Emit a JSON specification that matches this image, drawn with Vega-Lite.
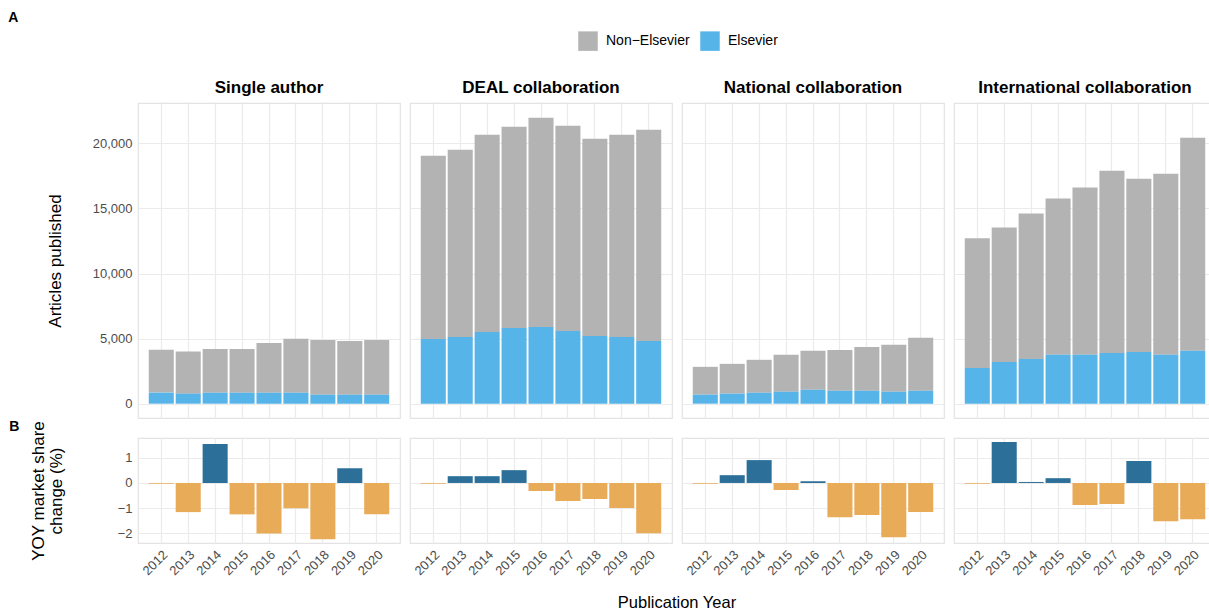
{
  "$schema": "https://vega.github.io/schema/vega-lite/v6.json",
  "padding": {"left": 8, "top": 11, "right": 0, "bottom": 0},
  "background": "white",
  "datasets": {
    "counts": [
      {"type": "Single author", "year": "2012", "publisher": "Non−Elsevier", "articles": 3300},
      {"type": "Single author", "year": "2013", "publisher": "Non−Elsevier", "articles": 3230},
      {"type": "Single author", "year": "2014", "publisher": "Non−Elsevier", "articles": 3370},
      {"type": "Single author", "year": "2015", "publisher": "Non−Elsevier", "articles": 3370},
      {"type": "Single author", "year": "2016", "publisher": "Non−Elsevier", "articles": 3830},
      {"type": "Single author", "year": "2017", "publisher": "Non−Elsevier", "articles": 4140},
      {"type": "Single author", "year": "2018", "publisher": "Non−Elsevier", "articles": 4210},
      {"type": "Single author", "year": "2019", "publisher": "Non−Elsevier", "articles": 4130},
      {"type": "Single author", "year": "2020", "publisher": "Non−Elsevier", "articles": 4210},
      {"type": "Single author", "year": "2012", "publisher": "Elsevier", "articles": 850},
      {"type": "Single author", "year": "2013", "publisher": "Elsevier", "articles": 770},
      {"type": "Single author", "year": "2014", "publisher": "Elsevier", "articles": 840},
      {"type": "Single author", "year": "2015", "publisher": "Elsevier", "articles": 840},
      {"type": "Single author", "year": "2016", "publisher": "Elsevier", "articles": 840},
      {"type": "Single author", "year": "2017", "publisher": "Elsevier", "articles": 840},
      {"type": "Single author", "year": "2018", "publisher": "Elsevier", "articles": 690},
      {"type": "Single author", "year": "2019", "publisher": "Elsevier", "articles": 690},
      {"type": "Single author", "year": "2020", "publisher": "Elsevier", "articles": 690},
      {"type": "DEAL collaboration", "year": "2012", "publisher": "Non−Elsevier", "articles": 14080},
      {"type": "DEAL collaboration", "year": "2013", "publisher": "Non−Elsevier", "articles": 14370},
      {"type": "DEAL collaboration", "year": "2014", "publisher": "Non−Elsevier", "articles": 15150},
      {"type": "DEAL collaboration", "year": "2015", "publisher": "Non−Elsevier", "articles": 15450},
      {"type": "DEAL collaboration", "year": "2016", "publisher": "Non−Elsevier", "articles": 16060},
      {"type": "DEAL collaboration", "year": "2017", "publisher": "Non−Elsevier", "articles": 15760},
      {"type": "DEAL collaboration", "year": "2018", "publisher": "Non−Elsevier", "articles": 15150},
      {"type": "DEAL collaboration", "year": "2019", "publisher": "Non−Elsevier", "articles": 15530},
      {"type": "DEAL collaboration", "year": "2020", "publisher": "Non−Elsevier", "articles": 16220},
      {"type": "DEAL collaboration", "year": "2012", "publisher": "Elsevier", "articles": 4970},
      {"type": "DEAL collaboration", "year": "2013", "publisher": "Elsevier", "articles": 5130},
      {"type": "DEAL collaboration", "year": "2014", "publisher": "Elsevier", "articles": 5510},
      {"type": "DEAL collaboration", "year": "2015", "publisher": "Elsevier", "articles": 5820},
      {"type": "DEAL collaboration", "year": "2016", "publisher": "Elsevier", "articles": 5900},
      {"type": "DEAL collaboration", "year": "2017", "publisher": "Elsevier", "articles": 5590},
      {"type": "DEAL collaboration", "year": "2018", "publisher": "Elsevier", "articles": 5200},
      {"type": "DEAL collaboration", "year": "2019", "publisher": "Elsevier", "articles": 5130},
      {"type": "DEAL collaboration", "year": "2020", "publisher": "Elsevier", "articles": 4820},
      {"type": "National collaboration", "year": "2012", "publisher": "Non−Elsevier", "articles": 2140},
      {"type": "National collaboration", "year": "2013", "publisher": "Non−Elsevier", "articles": 2290},
      {"type": "National collaboration", "year": "2014", "publisher": "Non−Elsevier", "articles": 2530},
      {"type": "National collaboration", "year": "2015", "publisher": "Non−Elsevier", "articles": 2830},
      {"type": "National collaboration", "year": "2016", "publisher": "Non−Elsevier", "articles": 2990},
      {"type": "National collaboration", "year": "2017", "publisher": "Non−Elsevier", "articles": 3130},
      {"type": "National collaboration", "year": "2018", "publisher": "Non−Elsevier", "articles": 3360},
      {"type": "National collaboration", "year": "2019", "publisher": "Non−Elsevier", "articles": 3600},
      {"type": "National collaboration", "year": "2020", "publisher": "Non−Elsevier", "articles": 4060},
      {"type": "National collaboration", "year": "2012", "publisher": "Elsevier", "articles": 690},
      {"type": "National collaboration", "year": "2013", "publisher": "Elsevier", "articles": 770},
      {"type": "National collaboration", "year": "2014", "publisher": "Elsevier", "articles": 840},
      {"type": "National collaboration", "year": "2015", "publisher": "Elsevier", "articles": 920},
      {"type": "National collaboration", "year": "2016", "publisher": "Elsevier", "articles": 1070},
      {"type": "National collaboration", "year": "2017", "publisher": "Elsevier", "articles": 1000},
      {"type": "National collaboration", "year": "2018", "publisher": "Elsevier", "articles": 1000},
      {"type": "National collaboration", "year": "2019", "publisher": "Elsevier", "articles": 920},
      {"type": "National collaboration", "year": "2020", "publisher": "Elsevier", "articles": 1000},
      {"type": "International collaboration", "year": "2012", "publisher": "Non−Elsevier", "articles": 9950},
      {"type": "International collaboration", "year": "2013", "publisher": "Non−Elsevier", "articles": 10330},
      {"type": "International collaboration", "year": "2014", "publisher": "Non−Elsevier", "articles": 11170},
      {"type": "International collaboration", "year": "2015", "publisher": "Non−Elsevier", "articles": 12010},
      {"type": "International collaboration", "year": "2016", "publisher": "Non−Elsevier", "articles": 12850},
      {"type": "International collaboration", "year": "2017", "publisher": "Non−Elsevier", "articles": 14000},
      {"type": "International collaboration", "year": "2018", "publisher": "Non−Elsevier", "articles": 13310},
      {"type": "International collaboration", "year": "2019", "publisher": "Non−Elsevier", "articles": 13920},
      {"type": "International collaboration", "year": "2020", "publisher": "Non−Elsevier", "articles": 16370},
      {"type": "International collaboration", "year": "2012", "publisher": "Elsevier", "articles": 2750},
      {"type": "International collaboration", "year": "2013", "publisher": "Elsevier", "articles": 3210},
      {"type": "International collaboration", "year": "2014", "publisher": "Elsevier", "articles": 3440},
      {"type": "International collaboration", "year": "2015", "publisher": "Elsevier", "articles": 3750},
      {"type": "International collaboration", "year": "2016", "publisher": "Elsevier", "articles": 3750},
      {"type": "International collaboration", "year": "2017", "publisher": "Elsevier", "articles": 3900},
      {"type": "International collaboration", "year": "2018", "publisher": "Elsevier", "articles": 3980},
      {"type": "International collaboration", "year": "2019", "publisher": "Elsevier", "articles": 3750},
      {"type": "International collaboration", "year": "2020", "publisher": "Elsevier", "articles": 4060}
    ],
    "changes": [
      {"type": "Single author", "year": "2012", "change": -0.03},
      {"type": "Single author", "year": "2013", "change": -1.16},
      {"type": "Single author", "year": "2014", "change": 1.55},
      {"type": "Single author", "year": "2015", "change": -1.25},
      {"type": "Single author", "year": "2016", "change": -2.01},
      {"type": "Single author", "year": "2017", "change": -1.01},
      {"type": "Single author", "year": "2018", "change": -2.24},
      {"type": "Single author", "year": "2019", "change": 0.59},
      {"type": "Single author", "year": "2020", "change": -1.25},
      {"type": "DEAL collaboration", "year": "2012", "change": -0.03},
      {"type": "DEAL collaboration", "year": "2013", "change": 0.27},
      {"type": "DEAL collaboration", "year": "2014", "change": 0.27},
      {"type": "DEAL collaboration", "year": "2015", "change": 0.51},
      {"type": "DEAL collaboration", "year": "2016", "change": -0.32},
      {"type": "DEAL collaboration", "year": "2017", "change": -0.72},
      {"type": "DEAL collaboration", "year": "2018", "change": -0.64},
      {"type": "DEAL collaboration", "year": "2019", "change": -1.0},
      {"type": "DEAL collaboration", "year": "2020", "change": -2.0},
      {"type": "National collaboration", "year": "2012", "change": -0.03},
      {"type": "National collaboration", "year": "2013", "change": 0.31},
      {"type": "National collaboration", "year": "2014", "change": 0.91},
      {"type": "National collaboration", "year": "2015", "change": -0.28},
      {"type": "National collaboration", "year": "2016", "change": 0.07},
      {"type": "National collaboration", "year": "2017", "change": -1.36},
      {"type": "National collaboration", "year": "2018", "change": -1.28},
      {"type": "National collaboration", "year": "2019", "change": -2.16},
      {"type": "National collaboration", "year": "2020", "change": -1.16},
      {"type": "International collaboration", "year": "2012", "change": -0.03},
      {"type": "International collaboration", "year": "2013", "change": 1.63},
      {"type": "International collaboration", "year": "2014", "change": 0.04},
      {"type": "International collaboration", "year": "2015", "change": 0.19},
      {"type": "International collaboration", "year": "2016", "change": -0.88},
      {"type": "International collaboration", "year": "2017", "change": -0.84},
      {"type": "International collaboration", "year": "2018", "change": 0.87},
      {"type": "International collaboration", "year": "2019", "change": -1.52},
      {"type": "International collaboration", "year": "2020", "change": -1.44}
    ]
  },
  "vconcat": [
    {
      "data": {"name": "counts"},
      "title": {"text": "A", "anchor": "start", "frame": "bounds", "fontSize": 14, "fontWeight": "bold", "font": "Liberation Sans", "color": "black", "offset": 6, "dx": -38},
      "facet": {
        "column": {
          "field": "type",
          "sort": ["Single author", "DEAL collaboration", "National collaboration", "International collaboration"],
          "header": {"title": null, "labelFontSize": 17, "labelFontWeight": "bold", "labelFont": "Liberation Sans", "labelColor": "black", "labelPadding": 5}
        }
      },
      "spacing": 8,
      "spec": {
        "width": 262,
        "height": 315,
        "mark": {"type": "bar"},
        "encoding": {
          "x": {
            "field": "year", "type": "ordinal",
            "scale": {"paddingInner": 0.07, "paddingOuter": 0.4},
            "axis": {"title": null, "labels": false, "ticks": false, "domain": false, "grid": true, "bandPosition": 0.5}
          },
          "y": {
            "field": "articles", "type": "quantitative", "aggregate": "sum", "stack": "zero",
            "scale": {"domain": [-1100, 23100], "nice": false, "zero": false},
            "axis": {"title": "Articles published", "values": [0, 5000, 10000, 15000, 20000], "format": ",d", "titlePadding": 28}
          },
          "color": {
            "field": "publisher", "type": "nominal",
            "scale": {"domain": ["Non−Elsevier", "Elsevier"], "range": ["#B3B3B3", "#56B4E9"]},
            "legend": {"title": null, "orient": "none", "legendX": 440, "legendY": -72, "direction": "horizontal", "symbolType": "square", "symbolSize": 380, "symbolStrokeWidth": 0, "labelFontSize": 14, "labelFont": "Liberation Sans", "labelColor": "black", "columnPadding": 10, "labelOffset": 8}
          },
          "order": {"field": "publisher", "sort": "ascending"}
        }
      }
    },
    {
      "data": {"name": "changes"},
      "title": {"text": "B", "anchor": "start", "frame": "bounds", "fontSize": 14, "fontWeight": "bold", "font": "Liberation Sans", "color": "black", "offset": 0, "dy": 13, "dx": -20},
      "facet": {
        "column": {
          "field": "type",
          "sort": ["Single author", "DEAL collaboration", "National collaboration", "International collaboration"],
          "title": "Publication Year",
          "header": {"labels": false, "titleOrient": "bottom", "titleFontSize": 16.5, "titleFontWeight": "normal", "titleFont": "Liberation Sans", "titleColor": "black", "titlePadding": 7}
        }
      },
      "spacing": 8,
      "spec": {
        "width": 262,
        "height": 105,
        "mark": {"type": "bar"},
        "encoding": {
          "x": {
            "field": "year", "type": "ordinal",
            "scale": {"paddingInner": 0.07, "paddingOuter": 0.4},
            "axis": {"title": null, "labelAngle": -45, "ticks": false, "domain": false, "grid": true, "bandPosition": 0.5, "labelPadding": 4}
          },
          "y": {
            "field": "change", "type": "quantitative",
            "scale": {"domain": [-2.39, 1.79], "nice": false, "zero": false},
            "axis": {"title": ["YOY market share", "change (%)"], "values": [-2, -1, 0, 1], "format": "d", "titlePadding": 52, "titleLineHeight": 18}
          },
          "color": {
            "condition": {"test": "datum.change > 0", "value": "#2C709A"},
            "value": "#E8AB57"
          }
        }
      }
    }
  ],
  "spacing": 0,
  "resolve": {"scale": {"color": "independent"}, "legend": {"color": "independent"}},
  "config": {
    "font": "Liberation Sans",
    "view": {"stroke": "#E3E3E3", "strokeWidth": 1.2},
    "axis": {
      "gridColor": "#EBEBEB", "gridWidth": 1.2,
      "labelFontSize": 13, "labelColor": "#4D4D4D", "labelFont": "Liberation Sans",
      "titleFontSize": 17, "titleFontWeight": "normal", "titleColor": "black", "titleFont": "Liberation Sans",
      "ticks": false, "domain": false, "labelPadding": 5
    }
  }
}
